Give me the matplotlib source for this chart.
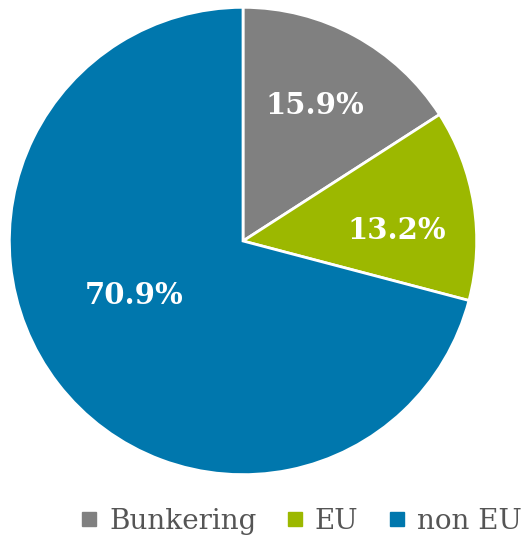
import matplotlib.pyplot as plt
from matplotlib.lines import Line2D
import numpy as np

# data
labels = ["Bunkering", "EU", "non EU"]
shares = [15.9, 13.2, 70.9]
colors = ["#808080", "#9cb800", "#0077ad"]

# label placement (fraction of radius, angle in degrees)
label_pos = [(0.655, 62), (0.66, 4), (0.52, 206.5)]

fig = plt.figure(figsize=(5.28, 5.36), dpi=100)
ax = fig.add_axes([0.01326, 0.1101, 0.894, 0.8806])

wedges, texts = ax.pie(shares, colors=colors, startangle=90, counterclock=False,
                       wedgeprops=dict(edgecolor="white", linewidth=2))
ax.set_xlim(-1.01, 1.01)
ax.set_ylim(-1.01, 1.01)
ax.set_aspect("equal")
ax.axis("off")

for val, (r, a) in zip(shares, label_pos):
    ax.text(r * np.cos(np.radians(a)), r * np.sin(np.radians(a)), f"{val}%",
            ha="center", va="center", color="white", fontsize=21,
            fontweight="bold", family="DejaVu Serif")

handles = [Line2D([], [], marker="s", linestyle="none", markersize=10,
                  markerfacecolor=c, markeredgecolor=c) for c in colors]
fig.legend(handles, labels, loc="lower right", bbox_to_anchor=(1.035, -0.045),
           ncol=3, frameon=False, handlelength=0.6, handletextpad=0.4,
           columnspacing=1.1,
           prop=dict(family="DejaVu Serif", size=20), labelcolor="#555555")

fig.savefig("out.png", dpi=100)
